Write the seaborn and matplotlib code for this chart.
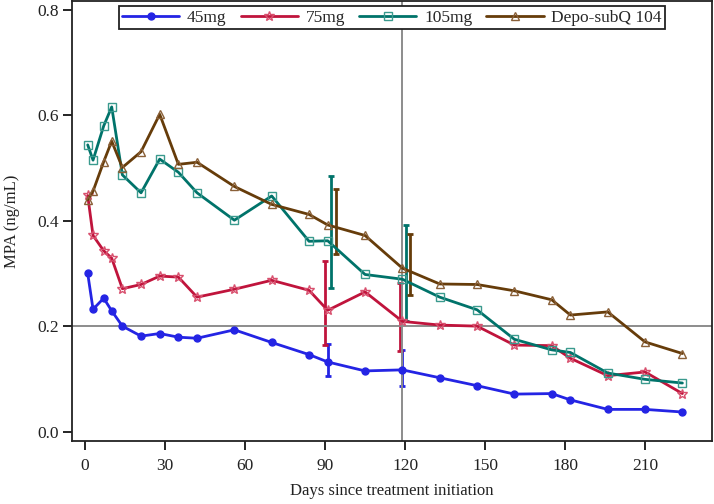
import numpy as np
import pandas as pd
import matplotlib
matplotlib.use("Agg")
import matplotlib.pyplot as plt
import seaborn as sns

days = [1, 3, 7, 10, 14, 21, 28, 35, 42, 56, 70, 84, 91, 105, 119, 133, 147, 161, 175, 182, 196, 210, 224]

mpa_45 = [0.300, 0.232, 0.253, 0.229, 0.200, 0.181, 0.186, 0.179, 0.177, 0.193, 0.169, 0.146, 0.132,
          0.115, 0.117, 0.102, 0.087, 0.071, 0.072, 0.060, 0.042, 0.042, 0.037]
mpa_75 = [0.448, 0.372, 0.343, 0.329, 0.271, 0.279, 0.295, 0.293, 0.255, 0.270, 0.287, 0.268, 0.230,
          0.265, 0.209, 0.202, 0.200, 0.164, 0.163, 0.139, 0.106, 0.113, 0.072]
mpa_105 = [0.544, 0.515, 0.580, 0.616, 0.487, 0.453, 0.517, 0.492, 0.453, 0.401, 0.447, 0.361, 0.362,
           0.298, 0.289, 0.255, 0.231, 0.175, 0.155, 0.150, 0.111, 0.099, 0.092]
mpa_depo = [0.440, 0.456, 0.512, 0.551, 0.501, 0.531, 0.602, 0.507, 0.511, 0.465, 0.431, 0.412, 0.392,
            0.372, 0.310, 0.280, 0.279, 0.267, 0.250, 0.221, 0.227, 0.170, 0.148]

series_names = ["45mg", "75mg", "105mg", "Depo-subQ 104"]

# error bars at day 91 and 119 (x offsets to separate groups)
err_days = [91, 119]
err_offset = {"45mg": 0.0, "75mg": -1.0, "105mg": 1.2, "Depo-subQ 104": 3.0}
err_mid = {"45mg": [0.132, 0.117], "75mg": [0.2435, 0.2175], "105mg": [0.3785, 0.301], "Depo-subQ 104": [0.398, 0.3165]}
err_low = {"45mg": [0.105, 0.087], "75mg": [0.164, 0.153], "105mg": [0.272, 0.210], "Depo-subQ 104": [0.336, 0.259]}
err_high = {"45mg": [0.166, 0.155], "75mg": [0.323, 0.282], "105mg": [0.485, 0.392], "Depo-subQ 104": [0.460, 0.374]}

x_ticks = [0, 30, 60, 90, 120, 150, 180, 210]
y_ticks = [0.0, 0.2, 0.4, 0.6, 0.8]

sns.set_theme(style="ticks")
plt.rcParams["font.family"] = ["Liberation Serif", "DejaVu Serif"]

colors = {"45mg": "#2424e4", "75mg": "#c0143c", "105mg": "#00736a", "Depo-subQ 104": "#663c0a"}
edge_colors = {"45mg": "#2424e4", "75mg": "#d8506e", "105mg": "#3a9a8e", "Depo-subQ 104": "#8a6038"}
markers = {"45mg": "o", "75mg": "*", "105mg": "s", "Depo-subQ 104": "^"}
msizes = {"45mg": 5, "75mg": 7, "105mg": 5.5, "Depo-subQ 104": 5.5}

fig = plt.figure(figsize=(7.14, 5.04), dpi=100)
ax = fig.add_axes([0.1008, 0.125, 0.8964, 0.873])

# error bars
for name in series_names:
    xs = [d + err_offset[name] for d in err_days]
    mid = np.array(err_mid[name])
    lo = mid - np.array(err_low[name])
    hi = np.array(err_high[name]) - mid
    ax.errorbar(xs, mid, yerr=[lo, hi], fmt="none", ecolor=colors[name],
                elinewidth=2, capsize=2.2, capthick=2, zorder=2)

# reference lines
ax.axvline(119, color="#8c8c8c", lw=1.4, zorder=2.5)
ax.axhline(0.2, color="#8c8c8c", lw=1.4, zorder=2.5)

data = {"45mg": mpa_45, "75mg": mpa_75, "105mg": mpa_105, "Depo-subQ 104": mpa_depo}
for name in series_names:
    df = pd.DataFrame({"day": days, "mpa": data[name]})
    mfc = colors[name] if name == "45mg" else "none"
    sns.lineplot(data=df, x="day", y="mpa", ax=ax, color=colors[name], lw=2,
                 marker=markers[name], markersize=msizes[name], markerfacecolor=mfc,
                 markeredgecolor=edge_colors[name], markeredgewidth=1.0,
                 label=name, zorder=3)

ax.set_xlim(-4.9, 235.1)
ax.set_ylim(-0.018, 0.817)
ax.set_xticks(x_ticks)
ax.set_yticks(y_ticks)
ax.set_yticklabels([f"{v:.1f}" for v in y_ticks])
ax.tick_params(axis="both", labelsize=12.5, length=6.5, width=1.2, color="black", labelcolor="#222222")
ax.tick_params(axis="x", pad=6)
ax.tick_params(axis="y", pad=3)
for sp in ax.spines.values():
    sp.set_color("#222222")
    sp.set_linewidth(1.3)

ax.set_xlabel("Days since treatment initiation", fontsize=12, color="#222222", labelpad=6)
ax.set_ylabel("MPA (ng/mL)", fontsize=12, color="#222222", labelpad=12)

leg = ax.legend(loc="upper center", ncol=4, fontsize=12.5, frameon=True, fancybox=False,
                framealpha=1, edgecolor="#222222", handlelength=3.3, handletextpad=0.45,
                columnspacing=0.8, borderpad=0.2, borderaxespad=0.3)
leg.get_frame().set_linewidth(1.3)

fig.savefig("out.png", dpi=100)
